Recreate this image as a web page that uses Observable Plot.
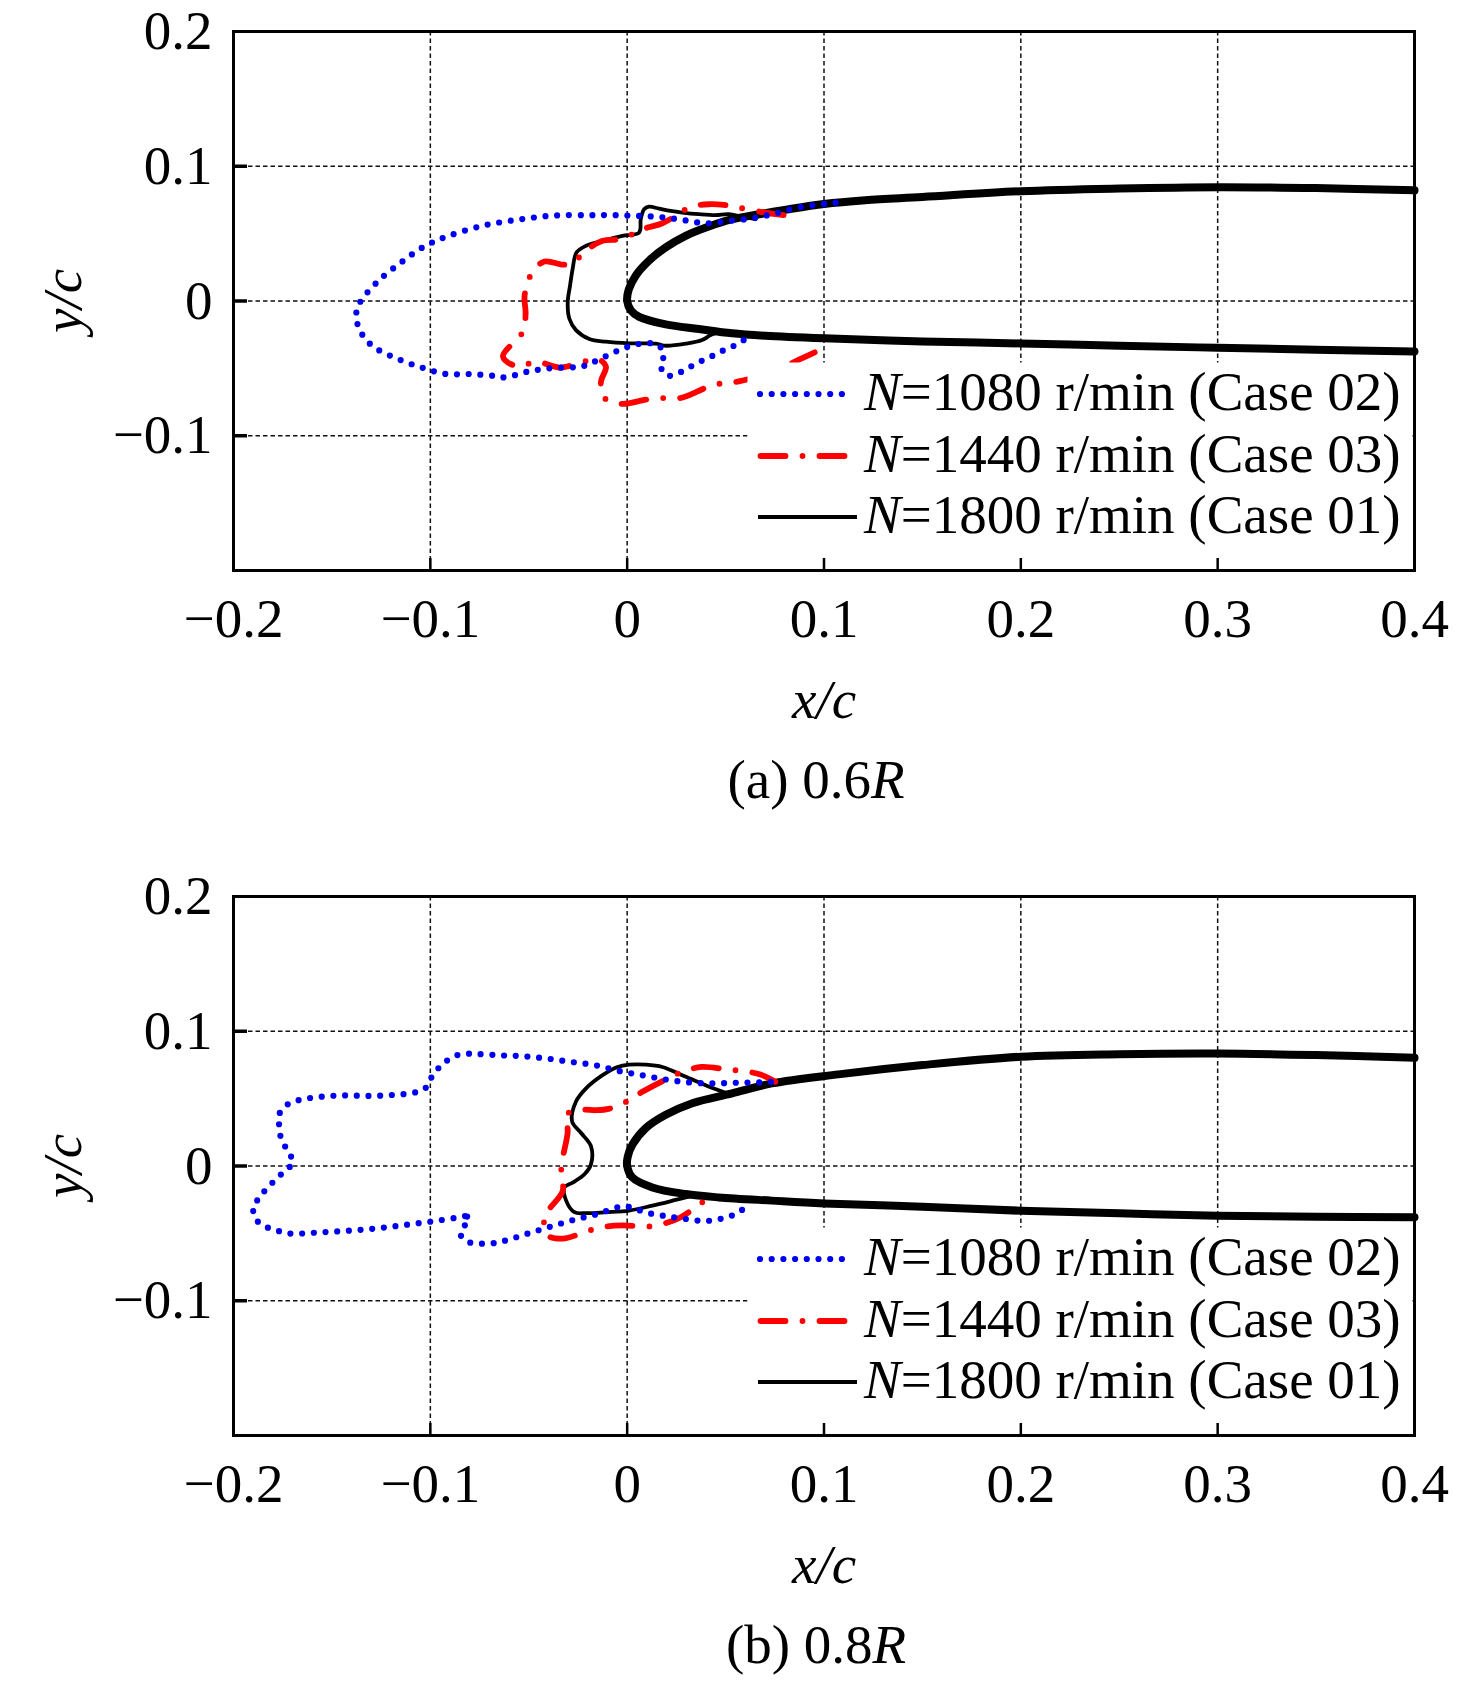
<!DOCTYPE html>
<html><head><meta charset="utf-8">
<script src="https://cdn.jsdelivr.net/npm/d3@7"></script>
<script src="https://cdn.jsdelivr.net/npm/@observablehq/plot@0.6"></script>
<style>
html,body{margin:0;padding:0;background:#fff;}
#page{position:relative;width:1476px;height:1684px;overflow:hidden;font-family:"Liberation Serif","Times New Roman",serif;color:#000;}
.panel{position:absolute;left:0;}
.cap{position:absolute;left:233px;width:1166px;text-align:center;font-size:55px;line-height:55px;white-space:nowrap;}
.leg{position:absolute;left:864px;font-size:55px;line-height:55px;white-space:nowrap;}
.sw{position:absolute;left:750px;}
</style></head><body><div id="page"></div>
<script>
// ---------- axes / ticks ----------
const xDomain = [-0.2, 0.4];
const yDomain = [-0.2, 0.2];
const xTickValues = [-0.2, -0.1, 0, 0.1, 0.2, 0.3, 0.4];
const xTickLabels = ["−0.2", "−0.1", "0", "0.1", "0.2", "0.3", "0.4"];
const yTickValues = [0.2, 0.1, 0, -0.1];
const yTickLabels = ["0.2", "0.1", "0", "−0.1"];
const xGrid = [-0.1, 0, 0.1, 0.2, 0.3];
const yGrid = [0.1, 0, -0.1];
const legendLabels = ["N=1080 r/min (Case 02)", "N=1440 r/min (Case 03)", "N=1800 r/min (Case 01)"];
const captions = ["(a) 0.6", "(b) 0.8"];
const captionItalic = "R";

// ---------- panel (a) 0.6R ----------
const foil06 = [[0.4,0.0821],[0.35,0.0838],[0.3,0.0845],[0.25,0.0835],[0.2,0.0815],[0.15,0.0772],[0.121,0.0748],[0.1,0.0720],[0.080,0.0676],[0.067,0.0644],[0.053,0.0605],[0.0415,0.0553],[0.0297,0.0484],[0.0196,0.0398],[0.0111,0.0300],[0.0044,0.0190],[0.0008,0.0085],[0,0],[0.0019,-0.0070],[0.0061,-0.0118],[0.0196,-0.0174],[0.0364,-0.0208],[0.0533,-0.0240],[0.0702,-0.0258],[0.1,-0.0277],[0.15,-0.0300],[0.2,-0.0315],[0.25,-0.0332],[0.3,-0.0347],[0.35,-0.0361],[0.4,-0.0375]];
const case02_06 = [[0.1059,0.0730],[0.0876,0.0696],[0.0756,0.0651],[0.0638,0.0614],[0.0520,0.0595],[0.0401,0.0577],[0.0280,0.0602],[0.0162,0.0624],[0.0044,0.0632],[-0.0074,0.0637],[-0.0192,0.0637],[-0.0373,0.0634],[-0.0552,0.0604],[-0.0730,0.0560],[-0.0909,0.0482],[-0.1027,0.0408],[-0.1147,0.0288],[-0.1267,0.0145],[-0.1361,-0.0019],[-0.1377,-0.0105],[-0.1365,-0.0194],[-0.1331,-0.0280],[-0.1277,-0.0351],[-0.1157,-0.0435],[-0.1039,-0.0496],[-0.0920,-0.0542],[-0.0800,-0.0542],[-0.0682,-0.0555],[-0.0621,-0.0567],[-0.0503,-0.0523],[-0.0385,-0.0498],[-0.0265,-0.0491],[-0.0206,-0.0476],[-0.0147,-0.0437],[-0.0027,-0.0356],[0.0034,-0.0326],[0.0095,-0.0314],[0.0153,-0.0322],[0.0187,-0.0395],[0.0170,-0.0481],[0.0201,-0.0553],[0.0260,-0.0535],[0.0317,-0.0491],[0.0378,-0.0444],[0.0437,-0.0405],[0.0496,-0.0361],[0.0557,-0.0322],[0.0616,-0.0266]];
const case03_06 = [[0.0795,0.0637],[0.0702,0.0656],[0.0567,0.0693],[0.0491,0.0713],[0.0415,0.0718],[0.0322,0.0700],[0.0272,0.0656],[0.0179,0.0577],[0.0103,0.0545],[0.0061,0.0521],[-0.0032,0.0460],[-0.0125,0.0447],[-0.0209,0.0374],[-0.0277,0.0283],[-0.0327,0.0270],[-0.0420,0.0293],[-0.0482,0.0214],[-0.0521,0.0042],[-0.0516,-0.0093],[-0.0530,-0.0228],[-0.0631,-0.0413],[-0.0555,-0.0486],[-0.0462,-0.0450],[-0.0344,-0.0494],[-0.0243,-0.0461],[-0.0150,-0.0430],[-0.0108,-0.0486],[-0.0133,-0.0597],[-0.0125,-0.0707],[-0.0032,-0.0763],[0.0095,-0.0732],[0.0187,-0.0720],[0.0272,-0.0720],[0.0406,-0.0641],[0.0486,-0.0609],[0.0567,-0.0597],[0.0702,-0.0542],[0.0778,-0.0503],[0.0870,-0.0437],[0.1006,-0.0346]];
const case01_06 = [[0.0651,0.0607],[0.0584,0.0626],[0.0516,0.0644],[0.0449,0.0637],[0.0364,0.0644],[0.0280,0.0656],[0.0221,0.0668],[0.0162,0.0685],[0.0111,0.0700],[0.0086,0.0681],[0.0069,0.0607],[0.0061,0.0508],[-0.0024,0.0484],[-0.0125,0.0447],[-0.0209,0.0410],[-0.0257,0.0361],[-0.0277,0.0239],[-0.0290,0.0116],[-0.0302,-0.0007],[-0.0294,-0.0130],[-0.0260,-0.0216],[-0.0192,-0.0282],[-0.0108,-0.0302],[0.0010,-0.0314],[0.0146,-0.0317],[0.0196,-0.0332],[0.0297,-0.0317],[0.0381,-0.0290],[0.0424,-0.0253],[0.0474,-0.0228]];

// ---------- panel (b) 0.8R ----------
const foil08 = [[0.4,0.0803],[0.35,0.0823],[0.3,0.0835],[0.25,0.0830],[0.2,0.0811],[0.15,0.0749],[0.1073,0.0680],[0.0735,0.0613],[0.0533,0.0539],[0.0331,0.0466],[0.0196,0.0380],[0.0095,0.0282],[0.0027,0.0159],[0.0003,0.0070],[0,0],[0.0027,-0.0086],[0.0128,-0.0159],[0.0297,-0.0208],[0.0466,-0.0233],[0.0735,-0.0257],[0.1,-0.0278],[0.15,-0.0302],[0.2,-0.0332],[0.25,-0.0351],[0.3,-0.0369],[0.35,-0.0376],[0.4,-0.0381]];
const case02_08 = [[0.0730,0.0625],[0.0672,0.0620],[0.0553,0.0618],[0.0434,0.0613],[0.0314,0.0620],[0.0196,0.0642],[0.0074,0.0674],[-0.0044,0.0706],[-0.0162,0.0748],[-0.0282,0.0772],[-0.0400,0.0796],[-0.0521,0.0814],[-0.0639,0.0821],[-0.0759,0.0831],[-0.0818,0.0833],[-0.0877,0.0816],[-0.0938,0.0755],[-0.0988,0.0674],[-0.1019,0.0586],[-0.1074,0.0547],[-0.1194,0.0527],[-0.1312,0.0520],[-0.1432,0.0524],[-0.1550,0.0515],[-0.1670,0.0488],[-0.1729,0.0453],[-0.1771,0.0373],[-0.1766,0.0287],[-0.1758,0.0201],[-0.1726,0.0115],[-0.1699,0.0027],[-0.1754,-0.0056],[-0.1813,-0.0140],[-0.1864,-0.0225],[-0.1899,-0.0311],[-0.1886,-0.0397],[-0.1825,-0.0458],[-0.1766,-0.0485],[-0.1707,-0.0502],[-0.1588,-0.0495],[-0.1469,-0.0485],[-0.1350,-0.0473],[-0.1230,-0.0456],[-0.1112,-0.0434],[-0.0992,-0.0412],[-0.0872,-0.0385],[-0.0813,-0.0375],[-0.0821,-0.0429],[-0.0847,-0.0507],[-0.0803,-0.0566],[-0.0744,-0.0576],[-0.0685,-0.0574],[-0.0626,-0.0556],[-0.0506,-0.0502],[-0.0387,-0.0449],[-0.0265,-0.0397],[-0.0147,-0.0355],[-0.0029,-0.0301],[0.0030,-0.0311],[0.0090,-0.0343],[0.0209,-0.0375],[0.0329,-0.0399],[0.0388,-0.0409],[0.0449,-0.0399],[0.0508,-0.0380],[0.0567,-0.0343],[0.0626,-0.0274],[NaN,NaN],[-0.0813,-0.0375],[-0.0763,-0.0385]];
const case03_08 = [[0.0753,0.0625],[0.0677,0.0679],[0.0596,0.0703],[0.0508,0.0716],[0.0378,0.0735],[0.0280,0.0699],[0.0196,0.0642],[0.0077,0.0551],[-0.0010,0.0473],[-0.0095,0.0424],[-0.0158,0.0414],[-0.0234,0.0417],[-0.0310,0.0380],[-0.0302,0.0257],[-0.0327,0.0061],[-0.0336,-0.0061],[-0.0327,-0.0184],[-0.0420,-0.0380],[-0.0403,-0.0515],[-0.0327,-0.0539],[-0.0192,-0.0478],[-0.0105,-0.0449],[-0.0024,-0.0441],[0.0111,-0.0449],[0.0196,-0.0424],[0.0272,-0.0380],[0.0415,-0.0233]];
const case01_08 = [[0.0533,0.0527],[0.0398,0.0600],[0.0280,0.0674],[0.0179,0.0735],[0.0095,0.0752],[0.0010,0.0752],[-0.0049,0.0735],[-0.0125,0.0674],[-0.0209,0.0576],[-0.0260,0.0478],[-0.0280,0.0331],[-0.0234,0.0245],[-0.0184,0.0147],[-0.0184,0.0012],[-0.0217,-0.0061],[-0.0277,-0.0123],[-0.0319,-0.0159],[-0.0310,-0.0257],[-0.0268,-0.0343],[-0.0209,-0.0350],[-0.0108,-0.0343],[0.0010,-0.0331],[0.0128,-0.0294],[0.0246,-0.0252],[0.0331,-0.0221]];

// ---------- styles (not data) ----------
const FONT = "'Liberation Serif','Times New Roman',serif";
const BLUE = "#0000f0", RED = "#ff0000";
const styleBlue = {stroke: BLUE, strokeWidth: 6.2, strokeDasharray: "0 11.7", strokeLinecap: "round"};
const styleRed = {stroke: RED, strokeWidth: 5.8, strokeDasharray: "25 17 0 17", strokeLinecap: "round"};
const styleBlack = {stroke: "black", strokeWidth: 3.8, strokeLinejoin: "round"};
const styleFoil = {stroke: "black", strokeWidth: 8, strokeLinejoin: "round"};
const gridStyle = {stroke: "#111", strokeWidth: 1.5, strokeDasharray: "4.5 3"};

const panels = [
  {foil: foil06, c02: case02_06, c03: case03_06, c01: case01_06, top: 0},
  {foil: foil08, c02: case02_08, c03: case03_08, c01: case01_08, top: 865}
];

const W = 1476, H = 740, ML = 233, MR = 62, MT = 31, MB = 170;
const FW = W - ML - MR, FH = H - MT - MB;
const px = d => d[0], py = d => d[1];

function makePanel(p) {
  return Plot.plot({
    width: W, height: H,
    marginLeft: ML, marginRight: MR, marginTop: MT, marginBottom: MB,
    x: {domain: xDomain}, y: {domain: yDomain},
    style: {fontFamily: FONT, fontSize: "55px", color: "black", background: "white", overflow: "visible"},
    marks: [
      Plot.ruleX(xGrid, {x: d => d, ...gridStyle}),
      Plot.ruleY(yGrid, {y: d => d, ...gridStyle}),
      Plot.line(p.foil, {x: px, y: py, curve: "catmull-rom", ...styleFoil}),
      Plot.line(p.c01, {x: px, y: py, curve: "catmull-rom", ...styleBlack}),
      Plot.line(p.c03, {x: px, y: py, curve: "catmull-rom", ...styleRed}),
      Plot.line(p.c02, {x: px, y: py, curve: "catmull-rom", ...styleBlue}),
      Plot.frame({fill: "white", stroke: "none", insetLeft: 514, insetTop: 331, insetRight: 2, insetBottom: 2}),
      Plot.tickX(xGrid, {x: d => d, insetTop: FH - 12, stroke: "black", strokeWidth: 2.5}),
      Plot.tickY(yGrid, {y: d => d, insetRight: FW - 14, stroke: "black", strokeWidth: 3.5}),
      Plot.frame({stroke: "black", strokeWidth: 3}),
      Plot.axisX({ticks: xTickValues, tickFormat: d => xTickLabels[xTickValues.indexOf(d)], tickSize: 0, tickPadding: 27, fontSize: 55, label: null}),
      Plot.axisY({ticks: yTickValues, tickFormat: d => yTickLabels[yTickValues.indexOf(d)], tickSize: 0, tickPadding: 21, fontSize: 55, label: null}),
      Plot.text(["x/c"], {frameAnchor: "bottom", textAnchor: "middle", lineAnchor: "bottom", dy: 147, fontStyle: "italic", fontSize: 55}),
      Plot.text(["y/c"], {frameAnchor: "left", textAnchor: "middle", lineAnchor: "bottom", rotate: -90, dx: -153, fontStyle: "italic", fontSize: 55})
    ]
  });
}

const page = document.getElementById("page");
const rowCenters = [394, 456, 517];
const legendStyles = [styleBlue, styleRed, styleBlack];
const swatchSpan = [[10, 103.6], [10.5, 94.5], [8, 107]];

panels.forEach((p, k) => {
  const chart = makePanel(p);
  chart.classList.add("panel");
  chart.style.top = p.top + "px";
  page.appendChild(chart);

  // legend (overlay swatches + text)
  legendLabels.forEach((lab, i) => {
    const s = legendStyles[i];
    const sw = document.createElementNS("http://www.w3.org/2000/svg", "svg");
    sw.setAttribute("class", "sw");
    sw.setAttribute("width", 120); sw.setAttribute("height", 20);
    sw.style.top = (p.top + rowCenters[i] - 10) + "px";
    const ln = document.createElementNS("http://www.w3.org/2000/svg", "line");
    ln.setAttribute("x1", swatchSpan[i][0]); ln.setAttribute("x2", swatchSpan[i][1]);
    ln.setAttribute("y1", 10); ln.setAttribute("y2", 10);
    ln.setAttribute("stroke", s.stroke);
    ln.setAttribute("stroke-width", i === 2 ? 4 : s.strokeWidth);
    if (s.strokeDasharray) ln.setAttribute("stroke-dasharray", s.strokeDasharray);
    if (s.strokeLinecap) ln.setAttribute("stroke-linecap", s.strokeLinecap);
    sw.appendChild(ln);
    page.appendChild(sw);

    const t = document.createElement("div");
    t.className = "leg";
    t.style.top = (p.top + rowCenters[i] + 16 - 46) + "px";
    const it = document.createElement("i");
    it.textContent = lab[0];
    t.appendChild(it);
    t.appendChild(document.createTextNode(lab.slice(1)));
    page.appendChild(t);
  });

  const cap = document.createElement("div");
  cap.className = "cap";
  cap.style.top = (p.top + 752) + "px";
  cap.appendChild(document.createTextNode(captions[k]));
  const ci = document.createElement("i");
  ci.textContent = captionItalic;
  cap.appendChild(ci);
  page.appendChild(cap);
});
</script>
</body></html>
